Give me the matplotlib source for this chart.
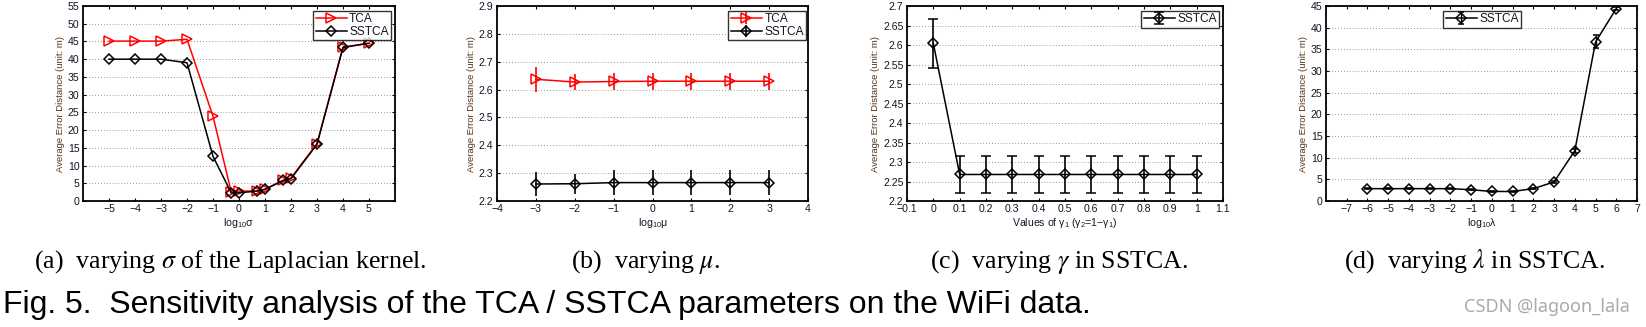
import numpy as np
import matplotlib
matplotlib.use("Agg")
import matplotlib.pyplot as plt

# ---------------- data ----------------
# (a) varying sigma
sigma_x = [-5, -4, -3, -2, -1, -0.3, 0, 0.7, 1, 1.7, 2, 3, 4, 5]
sigma_tca = [45.1, 45.1, 45.1, 45.6, 23.9, 2.6, 2.8, 2.8, 3.3, 5.8, 6.5, 16.2, 43.4, 44.5]
sigma_sstca = [40.0, 40.0, 40.0, 39.0, 12.6, 2.3, 2.3, 2.8, 3.3, 5.8, 6.3, 16.0, 43.3, 44.5]

# (b) varying mu
mu_x = [-3, -2, -1, 0, 1, 2, 3]
mu_tca = [2.637, 2.627, 2.629, 2.630, 2.630, 2.630, 2.630]
mu_tca_err = [0.045, 0.030, 0.030, 0.030, 0.030, 0.030, 0.030]
mu_sstca = [2.261, 2.262, 2.266, 2.266, 2.266, 2.266, 2.266]
mu_sstca_err = [0.042, 0.036, 0.044, 0.044, 0.044, 0.044, 0.044]

# (c) varying gamma
gamma_x = [0, 0.1, 0.2, 0.3, 0.4, 0.5, 0.6, 0.7, 0.8, 0.9, 1.0]
gamma_sstca = [2.604, 2.268, 2.268, 2.268, 2.268, 2.268, 2.268, 2.268, 2.268, 2.268, 2.268]
gamma_err = [0.062, 0.047, 0.047, 0.047, 0.047, 0.047, 0.047, 0.047, 0.047, 0.047, 0.047]

# (d) varying lambda
lambda_x = [-6, -5, -4, -3, -2, -1, 0, 1, 2, 3, 4, 5, 6]
lambda_sstca = [2.85, 2.85, 2.85, 2.85, 2.85, 2.6, 2.2, 2.2, 2.85, 4.4, 11.6, 36.7, 44.4]
lambda_err = [0.1, 0.1, 0.1, 0.1, 0.1, 0.1, 0.1, 0.1, 0.1, 0.2, 0.5, 1.5, 0.3]

captions = ["(a)  varying $\\mathit{\\sigma}$ of the Laplacian kernel.",
            "(b)  varying $\\mathit{\\mu}$.",
            "(c)  varying $\\mathit{\\gamma}$ in SSTCA.",
            "(d)  varying $\\mathit{\\lambda}$ in SSTCA."]
title = "Fig. 5.  Sensitivity analysis of the TCA / SSTCA parameters on the WiFi data."
watermark = "CSDN @lagoon_lala"

# ---------------- style ----------------
plt.rcParams['font.family'] = ['Liberation Sans', 'DejaVu Sans']
plt.rcParams['mathtext.default'] = 'regular'

W, H = 1646, 327
fig = plt.figure(figsize=(W / 100, H / 100), dpi=100)

TICK_C = '#141428'
YLAB_C = '#553318'
TFS = 7.6
YLFS = 6.8

def box(l, r, t=6, b=201):
    return [l / W, (H - b) / H, (r - l) / W, (b - t) / H]

def style(ax):
    for s in ax.spines.values():
        s.set_linewidth(1.3)
    ax.tick_params(direction='in', top=True, right=True, length=2.5, width=0.8,
                   labelsize=TFS, labelcolor=TICK_C, pad=2.5)
    ax.yaxis.grid(True, linestyle=(0, (1, 2.5)), color='#777777', linewidth=0.6)
    ax.set_axisbelow(True)
    ax.set_ylabel("Average Error Distance (unit: m)", fontsize=YLFS, color=YLAB_C, labelpad=2)

def leg(ax, **kw):
    lg = ax.legend(fontsize=8.6, frameon=True, fancybox=False, edgecolor='black',
                   borderpad=0.2, handlelength=2.6, handletextpad=0.2,
                   labelspacing=0.05, borderaxespad=0, **kw)
    lg.get_frame().set_linewidth(1.0)
    for t in lg.get_texts():
        t.set_color(TICK_C)
    return lg

tca_kw = dict(color='#ff0000', marker='>', mfc='none', mec='#ff0000', ms=7, mew=1.1, lw=1.1)
ss_kw = dict(color='black', marker='D', mfc='none', mec='black', ms=5.4, mew=1.1, lw=1.1)

# (a)
ax = fig.add_axes(box(83, 395))
ax.plot(sigma_x, sigma_tca, label='TCA', **tca_kw)
ax.plot(sigma_x, sigma_sstca, label='SSTCA', **ss_kw)
ax.set_xlim(-6, 6)
ax.set_xticks(range(-5, 6))
ax.set_ylim(0, 55)
ax.set_yticks(range(0, 56, 5))
ax.set_xlabel("log$_{10}$σ", fontsize=TFS, color=TICK_C, labelpad=1)
style(ax)
leg(ax, loc='upper right', bbox_to_anchor=(0.987, 0.975))

# (b)
ax = fig.add_axes(box(497, 808))
ax.errorbar(mu_x, mu_tca, yerr=mu_tca_err, label='TCA', capsize=0, elinewidth=1.2, **tca_kw)
ax.errorbar(mu_x, mu_sstca, yerr=mu_sstca_err, label='SSTCA', capsize=0, elinewidth=1.2, **ss_kw)
ax.set_xlim(-4, 4)
ax.set_xticks(range(-4, 5))
ax.set_ylim(2.2, 2.9)
ax.set_yticks(np.round(np.arange(2.2, 2.91, 0.1), 2))
ax.set_yticklabels([f"{v:g}" for v in np.round(np.arange(2.2, 2.91, 0.1), 2)])
ax.set_xlabel("log$_{10}$μ", fontsize=TFS, color=TICK_C, labelpad=1)
style(ax)
leg(ax, loc='upper right', bbox_to_anchor=(0.994, 0.975))

# (c)
ax = fig.add_axes(box(907, 1223))
ax.errorbar(gamma_x, gamma_sstca, yerr=gamma_err, label='SSTCA', capsize=3.5, elinewidth=1.2,
            capthick=1.2, **ss_kw)
ax.set_xlim(-0.1, 1.1)
xt = np.round(np.arange(-0.1, 1.11, 0.1), 1)
ax.set_xticks(xt)
ax.set_xticklabels([f"{v:g}".replace('-', '\u2212') for v in xt])
ax.set_ylim(2.2, 2.7)
yt = np.round(np.arange(2.2, 2.71, 0.05), 2)
ax.set_yticks(yt)
ax.set_yticklabels([f"{v:g}" for v in yt])
ax.set_xlabel("Values of γ$_1$ (γ$_2$=1\u2212γ$_1$)", fontsize=TFS, color=TICK_C, labelpad=1)
style(ax)
leg(ax, loc='upper right', bbox_to_anchor=(0.987, 0.975))

# (d)
ax = fig.add_axes(box(1326, 1637))
ax.errorbar(lambda_x, lambda_sstca, yerr=lambda_err, label='SSTCA', capsize=2.5, elinewidth=1.0,
            **ss_kw)
ax.set_xlim(-8, 7)
ax.set_xticks(range(-7, 8))
ax.set_ylim(0, 45)
ax.set_yticks(range(0, 46, 5))
ax.set_xlabel("log$_{10}$λ", fontsize=TFS, color=TICK_C, labelpad=1)
style(ax)
leg(ax, loc='upper center', bbox_to_anchor=(0.502, 0.975))

# captions
cap_x = [230, 645, 1059, 1474]
for cx, c in zip(cap_x, captions):
    fig.text(cx / W, (H - 268) / H, c, ha='center', va='baseline',
             fontsize=18.6, family=['Liberation Serif'], math_fontfamily='stix')

fig.text(3 / W, (H - 313) / H, title, ha='left', va='baseline', fontsize=23,
         family=['Liberation Sans'])
fig.text(1630 / W, (H - 312) / H, watermark, ha='right', va='baseline', fontsize=13,
         family=['Noto Sans'], color='#aaaaaa')

fig.savefig("out.png", dpi=100)
